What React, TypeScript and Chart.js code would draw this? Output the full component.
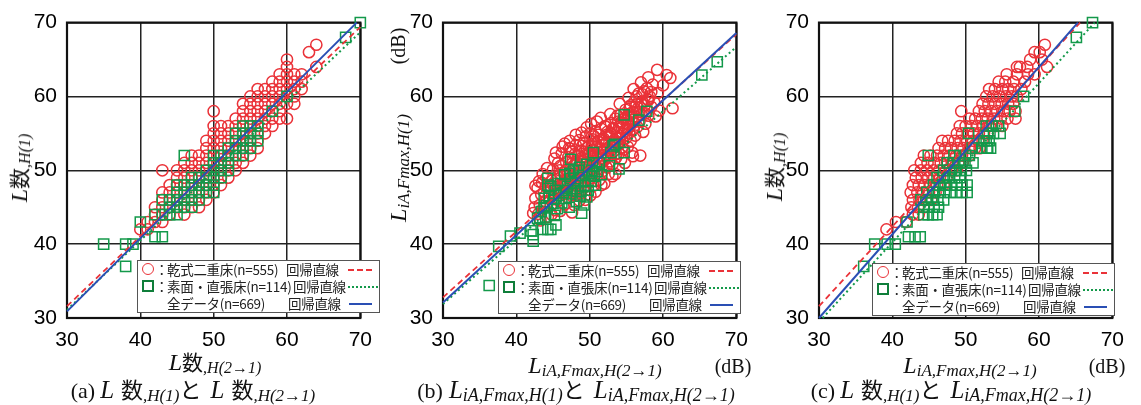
import React, { useEffect, useRef } from "react";
import { Chart, registerables } from "chart.js";
Chart.register(...registerables);

type P = [number, number];

// ---------------- Panel (a): L数,H(2→1) vs L数,H(1) ----------------
const redA: P[] = [
  [40,42],[41,42],[41,43],[42,43],[42,44],[42,45],[43,43],[43,44],[43,45],[43,46],[43,47],[43,50],
  [44,44],[44,45],[44,46],[44,47],[44,48],[45,45],[45,46],[45,47],[45,48],[45,49],[45,50],
  [46,44],[46,45],[46,46],[46,47],[46,48],[46,49],[46,50],[46,51],
  [47,45],[47,46],[47,47],[47,48],[47,49],[47,50],[47,51],[47,52],
  [48,45],[48,46],[48,47],[48,48],[48,49],[48,50],[48,51],[48,52],
  [49,46],[49,47],[49,48],[49,49],[49,50],[49,51],[49,52],[49,53],[49,54],
  [50,47],[50,48],[50,49],[50,50],[50,51],[50,52],[50,53],[50,54],[50,55],[50,56],[50,58],
  [51,48],[51,49],[51,50],[51,51],[51,52],[51,53],[51,54],[51,55],[51,56],
  [52,49],[52,50],[52,51],[52,52],[52,53],[52,54],[52,55],[52,56],
  [53,50],[53,51],[53,52],[53,53],[53,54],[53,55],[53,56],[53,57],
  [54,51],[54,52],[54,53],[54,54],[54,55],[54,56],[54,57],[54,58],[54,59],
  [55,52],[55,53],[55,54],[55,55],[55,56],[55,57],[55,58],[55,59],[55,60],
  [56,53],[56,54],[56,55],[56,56],[56,57],[56,58],[56,59],[56,60],[56,61],
  [57,55],[57,56],[57,57],[57,58],[57,59],[57,60],[57,61],
  [58,56],[58,57],[58,58],[58,59],[58,60],[58,61],[58,62],
  [59,57],[59,58],[59,59],[59,60],[59,61],[59,62],[59,63],
  [60,57],[60,59],[60,60],[60,61],[60,62],[60,63],[60,64],[60,65],
  [61,59],[61,60],[61,61],[61,62],[61,63],[62,61],[62,62],[62,63],
  [63,66],[64,64],[64,67],
];
const greenA: P[] = [
  [35,40],[38,40],[39,40],[38,37],[40,43],[42,44],[42,41],[43,41],[43,46],[43,44],
  [44,44],[44,45],[44,46],[45,44],[45,45],[45,46],[45,47],[45,48],
  [46,45],[46,46],[46,47],[46,48],[46,52],[47,45],[47,46],[47,47],[47,48],[47,49],
  [48,46],[48,47],[48,48],[48,49],[49,47],[49,48],[49,49],[49,50],
  [50,47],[50,48],[50,49],[50,50],[50,51],[50,52],[51,49],[51,50],[51,51],[51,52],
  [52,50],[52,51],[52,52],[52,53],[53,52],[53,53],[53,54],[53,55],
  [54,52],[54,53],[54,54],[54,55],[54,56],[55,53],[55,54],[55,55],[55,56],
  [56,54],[56,55],[56,56],[58,58],[60,60],[68,68],[70,70],
];
const lineAllA: P[] = [[30, 30.9], [69.5, 70]];
const lineDryA: P[] = [[30, 31.6], [70, 69.4]];
const lineDirectA: P[] = [[30, 31.1], [70, 68.7]];

// ---------------- Panel (b): LiA,Fmax,H(2→1) vs LiA,Fmax,H(1) ----------------
const redB: P[] = [
  [42.3,44.2],[42.5,45.0],[42.6,46.2],[42.9,47.6],[43.0,44.1],[43.2,45.3],[43.4,46.7],[43.5,48.3],[43.7,44.9],[43.8,47.1],
  [44.0,45.8],[44.1,49.0],[44.3,43.7],[44.4,46.4],[44.6,47.9],[44.7,45.2],[44.9,48.6],[45.0,50.1],[45.1,46.8],[45.2,51.6],
  [45.3,44.6],[45.5,47.5],[45.6,49.2],[45.8,45.9],[45.9,48.1],[46.0,50.6],[46.1,46.9],[46.2,52.3],[46.4,47.8],[46.5,49.7],
  [46.6,45.4],[46.8,51.1],[46.9,48.4],[47.0,46.3],[47.1,50.2],[47.2,53.0],[47.4,47.2],[47.4,52.9],[47.5,49.1],[47.6,44.3],
  [47.7,51.4],[47.8,48.0],[47.9,50.7],[48.0,46.6],[48.1,53.4],[48.2,49.5],[48.3,47.4],[48.4,51.9],[48.5,50.0],[48.6,54.1],
  [48.7,48.2],[48.8,46.9],[48.9,52.6],[49.0,50.8],[49.1,49.0],[49.2,53.7],[49.3,47.7],[49.4,51.5],[49.5,54.6],[49.6,49.8],
  [49.7,52.3],[49.8,48.4],[49.9,53.3],[50.0,50.6],[50.1,55.0],[50.2,51.8],[50.3,49.2],[50.4,54.2],[50.5,47.9],[50.6,52.7],
  [50.7,50.3],[50.8,55.3],[50.9,53.6],[51.0,49.6],[51.1,51.9],[51.2,54.8],[51.3,48.7],[51.4,53.0],[51.5,50.9],[51.6,55.6],
  [51.7,52.4],[51.8,49.9],[51.9,54.3],[52.0,51.4],[52.1,56.0],[52.2,53.5],[52.3,50.4],[52.4,55.2],[52.5,52.2],[52.6,49.5],
  [52.7,54.7],[52.8,51.2],[52.9,56.4],[53.0,53.1],[53.1,50.8],[53.2,55.7],[53.3,52.6],[53.4,54.1],[53.5,57.0],[53.6,51.7],
  [53.7,55.0],[53.8,53.6],[53.9,56.6],[54.0,52.3],[54.1,54.6],[54.2,57.5],[54.3,51.5],[54.4,55.8],[54.5,53.9],[54.6,56.9],
  [54.7,52.8],[54.8,55.3],[54.9,58.2],[55.0,54.4],[55.1,56.3],[55.2,53.2],[55.3,57.6],[55.4,55.1],[55.5,58.6],[55.6,54.0],
  [55.7,56.8],[55.8,52.4],[55.9,57.9],[56.0,55.6],[56.1,59.3],[56.2,54.7],[56.3,57.2],[56.4,60.0],[56.5,55.9],[56.6,58.4],
  [56.7,60.4],[56.8,56.6],[56.9,52.0],[57.0,59.1],[57.1,57.5],[57.2,60.3],[57.3,55.2],[57.4,60.7],[57.5,58.8],[57.6,56.3],
  [57.8,61.1],[57.9,59.6],[58.0,57.4],[58.2,60.0],[58.4,58.6],[58.6,61.6],[58.8,59.2],[59.0,57.3],[59.2,63.6],[59.3,60.5],
  [59.5,58.1],[60.0,61.5],[60.5,62.9],[61.0,62.5],[61.3,58.4],[57.0,61.9],[58.0,62.6],[42.6,47.9],[43.1,48.5],[44.2,50.3],
  [45.7,51.0],[46.3,53.2],[47.3,54.0],[48.9,55.1],[50.2,56.3],[51.5,57.1],[52.8,57.6],[54.1,59.0],[55.3,59.8],[56.0,61.0],
  [46.0,44.5],[47.9,45.3],[49.4,46.0],[50.8,47.1],[52.0,48.2],[53.5,49.5],[54.8,51.0],[55.9,51.9],[44.8,44.0],[43.3,43.2],
  [46.5,48.5],[47.0,49.5],[47.5,48.6],[48.0,50.8],[48.5,49.3],[49.0,51.7],[49.5,50.5],[50.0,52.4],[50.5,51.3],[51.0,53.2],
  [51.5,52.0],[52.0,54.0],[52.5,53.0],[53.0,54.9],[53.5,53.8],[54.0,55.8],[54.5,54.9],[55.0,56.9],[55.5,56.0],[56.0,57.8],
  [46.8,50.0],[47.7,50.1],[48.3,51.0],[49.3,52.5],[50.3,53.3],[51.2,53.9],[52.3,54.8],[53.3,55.6],[54.3,56.5],[55.3,57.3],
  [45.5,48.8],[46.3,48.0],[47.2,47.9],[48.6,48.9],[49.7,49.7],[50.9,50.6],[51.8,51.6],[52.9,52.7],[53.9,53.4],[55.0,54.8],
  [44.5,47.0],[45.0,48.2],[45.4,46.2],[45.9,50.0],[46.2,47.1],[46.7,46.8],[47.1,51.8],[47.6,50.9],[48.0,52.2],[48.4,47.8],
  [48.8,51.2],[49.2,48.6],[49.6,53.0],[50.0,48.9],[50.4,51.6],[50.8,52.3],[51.2,50.3],[51.6,54.2],[52.0,52.8],[52.4,51.7],
  [52.8,55.1],[53.2,53.9],[53.6,52.2],[54.0,54.3],[54.4,53.1],[54.8,57.1],[55.2,55.6],[55.6,57.6],[56.0,56.5],[56.4,58.9],
  [56.8,57.9],[57.2,59.3],[57.6,57.7],[58.0,59.5],[58.4,60.6],[47.8,47.0],[48.6,45.9],[50.1,46.6],[51.6,48.0],[53.1,49.2],
  [45.4,52.4],[46.6,53.6],[48.1,54.8],[49.6,55.8],[51.0,56.6],[44.0,47.8],[43.6,49.5],[46.0,49.4],[47.5,52.5],[49.0,53.3],
  [50.6,54.6],[52.2,55.9],[53.8,57.4],[55.6,58.8],
];
const greenB: P[] = [
  [67.4,64.7],[65.3,62.9],[57.8,58.0],[56.7,56.8],[54.7,57.5],[54.0,50.2],[54.7,52.4],[53.4,53.5],[53.2,53.3],[52.9,52.4],
  [52.7,50.6],[50.5,52.4],[50.3,50.0],[48.5,50.0],[47.4,51.5],[48.7,46.5],[49.6,46.4],[48.9,44.2],[45.4,42.6],[44.7,42.0],
  [44.3,42.0],[43.6,42.0],[42.3,40.4],[42.3,41.3],[42.0,41.8],[40.5,41.5],[39.2,41.1],[37.6,39.7],[36.3,34.4],[42.9,43.5],
  [43.2,43.6],[43.4,44.4],[44.0,43.7],[43.8,46.2],[44.3,48.0],[44.3,48.9],[44.7,47.8],
  [44.5,46.5],[45.0,45.5],[45.3,47.3],[45.6,44.8],[45.8,46.6],[46.0,48.2],[46.2,45.6],[46.4,47.0],[46.6,49.4],[46.8,46.2],
  [47.0,47.8],[47.2,45.0],[47.4,48.9],[47.6,46.8],[47.8,49.9],[48.0,47.5],[48.2,45.8],[48.4,48.6],[48.6,50.4],[48.8,47.1],
  [49.0,49.3],[49.2,45.3],[49.4,48.0],[49.6,50.8],[49.8,47.3],[50.0,49.6],[50.2,48.5],[50.4,50.6],[50.6,49.2],[50.8,48.0],
  [51.0,49.8],[51.3,51.0],[51.6,49.4],[45.1,46.1],[46.9,47.3],[44.1,45.2],[43.8,44.9],[48.1,48.3],[47.3,49.6],[45.2,43.9],
];
const lineAllB: P[] = [[30, 32.1], [70, 68.6]];
const lineDryB: P[] = [[30, 32.8], [70, 68.4]];
const lineDirectB: P[] = [[30, 31.9], [70, 66.7]];

// ---------------- Panel (c): LiA,Fmax,H(2→1) vs L数,H(1) ----------------
const redC: P[] = [
  [39.2,42],[40.5,43],[41.9,43],[42.8,44],[43.6,44],[42.6,45],[43.5,45],[44.3,45],
  [42.8,46],[43.7,46],[44.6,46],[45.3,46],[42.5,47],[43.4,47],[44.2,47],[45.0,47],[45.9,47],
  [42.8,48],[43.6,48],[44.4,48],[45.2,48],[46.1,48],[47.0,48],[43.2,49],[44.0,49],[44.9,49],[45.7,49],[46.5,49],[47.4,49],
  [43.0,50],[43.9,50],[44.7,50],[45.6,50],[46.4,50],[47.3,50],[48.1,50],[48.8,50],
  [43.9,51],[44.8,51],[45.7,51],[46.6,51],[47.5,51],[48.3,51],[49.0,51],[49.6,51],
  [44.3,52],[45.2,52],[46.1,52],[47.0,52],[47.8,52],[48.7,52],[49.5,52],[50.5,52],
  [46.3,53],[47.2,53],[48.0,53],[48.9,53],[49.7,53],[50.6,53],[51.3,53],[51.9,53],
  [46.8,54],[47.6,54],[48.5,54],[49.3,54],[50.2,54],[51.0,54],[51.7,54],[52.3,54],
  [48.8,55],[49.5,55],[50.3,55],[51.1,55],[51.8,55],[52.5,55],[53.0,55],
  [49.2,56],[50.0,56],[50.8,56],[51.6,56],[52.4,56],[53.3,56],[54.2,56],[55.0,56],
  [50.5,57],[51.3,57],[52.2,57],[53.0,57],[53.9,57],[54.8,57],[55.7,57],[56.8,57],
  [49.4,58],[51.8,58],[52.6,58],[53.5,58],[54.3,58],[55.2,58],[56.0,58],[56.8,58],
  [52.3,59],[53.1,59],[54.0,59],[54.9,59],[55.8,59],[56.5,59],
  [52.8,60],[53.7,60],[54.6,60],[55.5,60],[56.3,60],[57.0,60],
  [53.2,61],[54.0,61],[55.0,61],[55.8,61],[56.6,61],[57.6,61],
  [54.5,62],[55.4,62],[56.5,62],[58.1,62],[55.6,63],[57.0,63],[58.5,63],[59.4,63],
  [57.0,64],[57.4,64],[58.4,64],[61.1,64],[58.8,65],[60.4,65],[60.1,66],[59.4,66],[60.8,67],
];
const greenC: P[] = [
  [67.3,70],[65.1,68],[57.9,60],[56.7,58],[54.7,55],[37.6,40],[39.3,40],[40.4,40],[36.1,37],[42.0,43],
  [42.2,41],[43.1,41],[43.8,41],[44.9,52],[50.4,55],[50.9,53],[52.8,56],[53.6,56],[54.5,56],[52.8,54],[53.0,53],
  [44.3,44],[44.9,44],[45.5,44],[46.1,44],[44.3,45],[45.0,45],[45.7,45],[46.3,45],
  [43.9,46],[44.6,46],[45.4,46],[46.2,46],[47.0,46],
  [44.7,47],[45.5,47],[46.3,47],[47.1,47],[47.9,47],[48.7,47],[49.5,47],[50.2,47],
  [45.6,48],[46.4,48],[47.2,48],[48.0,48],[48.8,48],[49.5,48],[50.2,48],
  [46.1,49],[46.9,49],[47.7,49],[48.5,49],[49.2,49],
  [47.0,50],[47.8,50],[48.6,50],[49.4,50],[50.1,50],
  [47.5,51],[48.3,51],[49.1,51],[49.9,51],[51.0,51],
  [48.4,52],[49.2,52],[50.0,52],[50.5,52],
  [52.2,53],[52.9,53],[53.4,53],[52.5,54],[53.2,54],[53.0,55],[53.8,55],
];
const lineAllC: P[] = [[30, 30], [65.3, 70]];
const lineDryC: P[] = [[30, 31.6], [65.6, 70]];
const lineDirectC: P[] = [[30.5, 30], [67.6, 70]];

const axisTicks = [30, 40, 50, 60, 70];

const RED = "#ea3238";
const GREEN = "#13994a";
const GREEN_DARK = "#0f7e3a";
const BLUE = "#2a4fb4";
const SANS = '"Liberation Sans", Arial, sans-serif';
const SERIF = '"Liberation Serif", "Times New Roman", serif';
const CJK = '"Noto Sans CJK JP", sans-serif';

const framePlugin = {
  id: "frame",
  beforeDatasetsDraw(chart: any) {
    const { ctx, chartArea: a } = chart;
    ctx.save();
    ctx.strokeStyle = "#111";
    ctx.lineWidth = 2.2;
    ctx.strokeRect(a.left, a.top, a.right - a.left, a.bottom - a.top);
    ctx.restore();
  },
};

function ScatterPanel(props: {
  left: number;
  red: P[];
  green: P[];
  lineAll: P[];
  lineDry: P[];
  lineDirect: P[];
}) {
  const ref = useRef<HTMLCanvasElement>(null);
  useEffect(() => {
    const pts = (a: P[]) => a.map(([x, y]) => ({ x, y }));
    const axis = (isX: boolean) => ({
      type: "linear" as const,
      min: axisTicks[0],
      max: axisTicks[axisTicks.length - 1],
      afterBuildTicks: (s: any) => {
        s.ticks = axisTicks.map((v) => ({ value: v }));
      },
      afterFit: (s: any) => {
        if (isX) s.height = 42;
        else s.width = 60;
      },
      ticks: {
        padding: 10,
        font: { family: SANS, size: 21 },
        color: "#000",
      },
      grid: { color: "#222", lineWidth: 1.5, drawTicks: false },
      border: { display: false },
    });
    const chart = new Chart(ref.current as HTMLCanvasElement, {
      type: "scatter",
      data: {
        datasets: [
          { data: pts(props.lineAll), showLine: true, borderColor: BLUE, borderWidth: 2, pointRadius: 0, clip: false } as any,
          { data: pts(props.lineDry), showLine: true, borderColor: RED, borderWidth: 1.8, borderDash: [6, 4], pointRadius: 0, clip: false } as any,
          { data: pts(props.lineDirect), showLine: true, borderColor: GREEN, borderWidth: 2, borderDash: [2, 3], pointRadius: 0, clip: false } as any,
          { data: pts(props.green), pointStyle: "rect", pointRadius: 7.2, borderColor: GREEN, backgroundColor: "rgba(0,0,0,0)", borderWidth: 1.5, clip: false } as any,
          { data: pts(props.red), pointStyle: "circle", pointRadius: 5.6, borderColor: RED, backgroundColor: "rgba(0,0,0,0)", borderWidth: 1.5, clip: false } as any,
        ],
      },
      options: {
        responsive: false,
        animation: false,
        events: [],
        layout: { padding: { left: 0, right: 15, top: 18, bottom: 0 } },
        plugins: { legend: { display: false }, tooltip: { enabled: false } },
        scales: { x: axis(true), y: axis(false) } as any,
      },
      plugins: [framePlugin],
    });
    return () => chart.destroy();
  }, []);
  return (
    <canvas
      ref={ref}
      width={375}
      height={360}
      style={{ position: "absolute", left: props.left, top: 0, width: 375, height: 360 }}
    />
  );
}

function Legend({ left, top }: { left: number; top: number }) {
  const row = (i: number) => 17 * i;
  const txt: React.CSSProperties = {
    position: "absolute",
    fontFamily: CJK,
    fontSize: 13.5,
    lineHeight: "17px",
    color: "#222",
    whiteSpace: "nowrap",
    letterSpacing: -0.3,
  };
  return (
    <div
      style={{
        position: "absolute",
        left,
        top,
        width: 243,
        height: 53,
        background: "#fff",
        border: "1px solid #555",
        boxSizing: "border-box",
      }}
    >
      <div style={{ position: "absolute", left: 4, top: 2, width: 12, height: 12, borderRadius: "50%", border: `1.5px solid ${RED}`, boxSizing: "border-box" }} />
      <div style={{ position: "absolute", left: 4, top: 19, width: 12, height: 12, border: `2px solid ${GREEN_DARK}`, boxSizing: "border-box" }} />
      <span style={{ ...txt, left: 17, top: row(0) }}>：</span>
      <span style={{ ...txt, left: 17, top: row(1) }}>：</span>
      <span style={{ ...txt, left: 29, top: row(0) }}>乾式二重床(n=555)</span>
      <span style={{ ...txt, left: 29, top: row(1) }}>素面・直張床(n=114)</span>
      <span style={{ ...txt, left: 29, top: row(2) }}>全データ(n=669)</span>
      <span style={{ ...txt, left: 148, top: row(0) }}>回帰直線</span>
      <span style={{ ...txt, left: 155, top: row(1) }}>回帰直線</span>
      <span style={{ ...txt, left: 150, top: row(2) }}>回帰直線</span>
      <div style={{ position: "absolute", left: 210, top: 8, width: 24, borderTop: `2px dashed ${RED}` }} />
      <div style={{ position: "absolute", left: 210, top: 25, width: 30, borderTop: `2px dotted ${GREEN}` }} />
      <div style={{ position: "absolute", left: 211, top: 42, width: 23, borderTop: `2px solid ${BLUE}` }} />
    </div>
  );
}

const it = (s: string, size: number): React.ReactNode => (
  <span style={{ fontFamily: SERIF, fontStyle: "italic", fontSize: size }}>{s}</span>
);
const sub = (s: string, size = 16): React.ReactNode => (
  <span style={{ fontFamily: SERIF, fontStyle: "italic", fontSize: size, position: "relative", top: 3 }}>{s}</span>
);
const kanji = (s: string, size = 21): React.ReactNode => (
  <span style={{ fontFamily: CJK, fontSize: size }}>{s}</span>
);

function Label({ x, y, rotate, children }: { x: number; y: number; rotate?: boolean; children: React.ReactNode }) {
  return (
    <div
      style={{
        position: "absolute",
        left: x,
        top: y,
        transform: `translate(-50%, -50%)${rotate ? " rotate(-90deg)" : ""}`,
        whiteSpace: "nowrap",
        color: "#111",
        fontFamily: SERIF,
        lineHeight: 1,
      }}
    >
      {children}
    </div>
  );
}

const Lsu = (s: string, big = 24, k = 21, sm = 16) => (
  <>
    {big > 0 ? it("L", big) : null}
    {kanji("数", k)}
    {sub(s, sm)}
  </>
);
const LiA = (s: string, big = 24, sm = 17) => (
  <>
    {it("L", big)}
    {sub("iA,Fmax," + s, sm)}
  </>
);
const gap = (w: number) => <span style={{ display: "inline-block", width: w }} />;

export default function App() {
  return (
    <div style={{ position: "absolute", left: 0, top: 0, width: 1141, height: 405, background: "#fff", overflow: "hidden" }}>
      <ScatterPanel left={7} red={redA} green={greenA} lineAll={lineAllA} lineDry={lineDryA} lineDirect={lineDirectA} />
      <ScatterPanel left={383} red={redB} green={greenB} lineAll={lineAllB} lineDry={lineDryB} lineDirect={lineDirectB} />
      <ScatterPanel left={759} red={redC} green={greenC} lineAll={lineAllC} lineDry={lineDryC} lineDirect={lineDirectC} />

      <Legend left={137} top={260} />
      <Legend left={498} top={261} />
      <Legend left={872} top={263} />

      {/* axis titles (a) */}
      <Label x={215} y={362}>{Lsu(",H(2→1)")}</Label>
      <Label x={19} y={168} rotate>{Lsu(",H(1)")}</Label>

      {/* axis titles (b) */}
      <Label x={595} y={365}>{LiA("H(2→1)")}</Label>
      <Label x={733} y={366}><span style={{ fontSize: 20 }}>(dB)</span></Label>
      <Label x={398} y={168} rotate>{LiA("H(1)")}</Label>
      <Label x={398} y={46} rotate><span style={{ fontSize: 20 }}>(dB)</span></Label>

      {/* axis titles (c) */}
      <Label x={970} y={365}>{LiA("H(2→1)")}</Label>
      <Label x={1107} y={366}><span style={{ fontSize: 20 }}>(dB)</span></Label>
      <Label x={774} y={167} rotate>{Lsu(",H(1)")}</Label>

      {/* captions */}
      <Label x={193} y={389}>
        <span style={{ fontSize: 22 }}>(a)</span>{gap(5)}{it("L", 25)}{gap(7)}{Lsu(",H(1)", 0, 22, 17)}{kanji("と", 22)}{gap(9)}{it("L", 25)}{gap(7)}{Lsu(",H(2→1)", 0, 22, 17)}
      </Label>
      <Label x={576} y={389}>
        <span style={{ fontSize: 22 }}>(b)</span>{gap(6)}{LiA("H(1)", 25, 18)}{kanji("と", 22)}{gap(9)}{LiA("H(2→1)", 25, 18)}
      </Label>
      <Label x={951} y={389}>
        <span style={{ fontSize: 22 }}>(c)</span>{gap(5)}{it("L", 25)}{gap(7)}{Lsu(",H(1)", 0, 22, 17)}{kanji("と", 22)}{gap(9)}{LiA("H(2→1)", 25, 18)}
      </Label>
    </div>
  );
}
